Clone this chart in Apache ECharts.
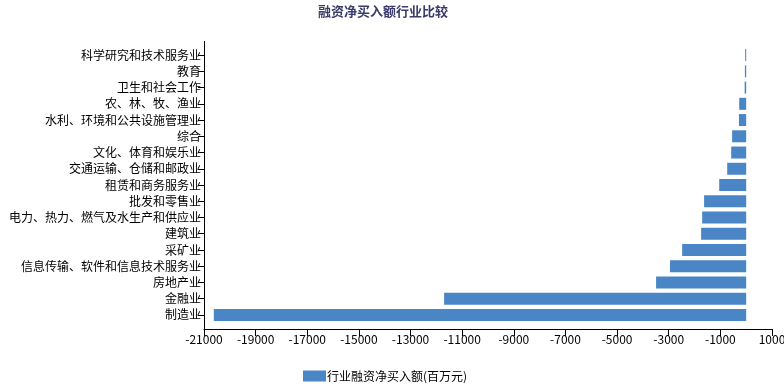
<!DOCTYPE html>
<html><head><meta charset="utf-8">
<script src="https://cdn.jsdelivr.net/npm/echarts@6/dist/echarts.min.js"></script>
<style>html,body{margin:0;padding:0;background:#fff}#c{width:784px;height:389px}</style>
</head><body><div id="c"></div>
<script>
const categories = ['制造业','金融业','房地产业','信息传输、软件和信息技术服务业','采矿业','建筑业','电力、热力、燃气及水生产和供应业','批发和零售业','租赁和商务服务业','交通运输、仓储和邮政业','文化、体育和娱乐业','综合','水利、环境和公共设施管理业','农、林、牧、渔业','卫生和社会工作','教育','科学研究和技术服务业'];
const values = [-20620,-11700,-3490,-2950,-2480,-1745,-1705,-1630,-1045,-735,-580,-545,-280,-270,-60,-50,-40];
const seriesName = '行业融资净买入额(百万元)';
const titleText = '融资净买入额行业比较';
const font = '"Noto Sans CJK SC", sans-serif';
const chart = echarts.init(document.getElementById('c'));
chart.setOption({
  animation:false,
  title:{text:titleText,left:313,top:0,textStyle:{fontSize:13,fontWeight:'bold',color:'#3b3b6b',fontFamily:font}},
  legend:{data:[seriesName],left:303,top:370,padding:0,itemWidth:23,itemHeight:11,itemGap:5,
    textStyle:{fontSize:12,color:'#000',fontFamily:font,padding:[0,0,0,-4]},icon:'rect'},
  grid:{left:204,right:12,top:47,bottom:66,containLabel:false,outerBoundsMode:'none'},
  graphic:[{type:'line',shape:{x1:204.5,y1:41,x2:204.5,y2:329},style:{stroke:'#000',lineWidth:1},z:10}],
  xAxis:{type:'value',min:-21000,max:1000,interval:2000,offset:6,
    axisLine:{show:true,lineStyle:{color:'#000',width:1}},
    axisTick:{show:true,length:7,lineStyle:{color:'#000'}},
    axisLabel:{color:'#000',fontSize:12,fontFamily:font,margin:4,formatter:function(v){return String(v);}},
    splitLine:{show:false}},
  yAxis:{type:'category',data:categories,
    axisLine:{show:true,onZero:false,lineStyle:{color:'#000',width:1}},
    axisTick:{show:true,alignWithLabel:true,length:6,lineStyle:{color:'#000'}},
    axisLabel:{color:'#000',fontSize:12,fontFamily:font,margin:3}},
  series:[{name:seriesName,type:'bar',data:values,barWidth:12,itemStyle:{color:'#4a86c6'}}]
});
</script></body></html>
